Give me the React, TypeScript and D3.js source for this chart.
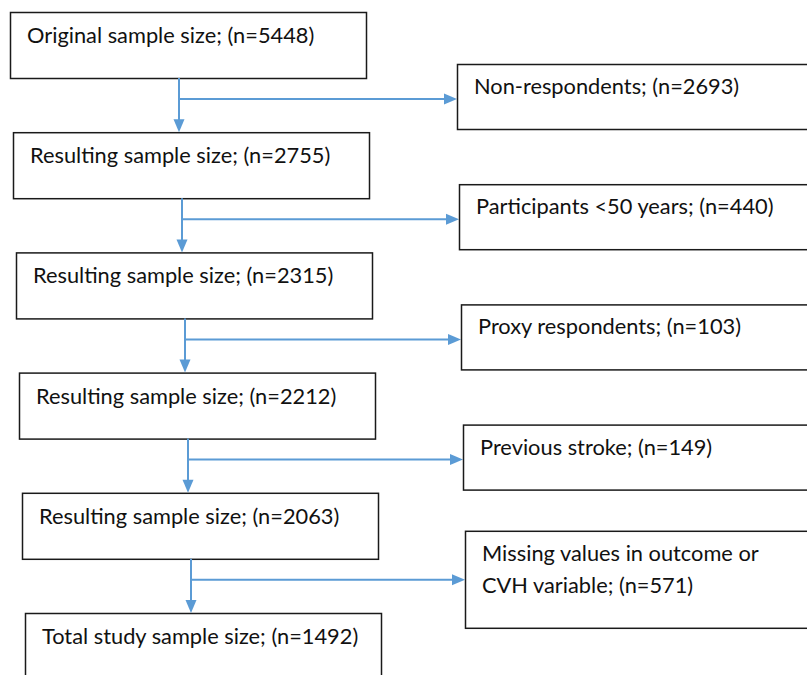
import * as d3 from 'd3';
import React, { useEffect, useRef } from 'react';

// flow steps (main column)
const stepLabels = [
  'Original sample size',
  'Resulting sample size',
  'Resulting sample size',
  'Resulting sample size',
  'Resulting sample size',
  'Total study sample size',
];
const stepCounts = [5448, 2755, 2315, 2212, 2063, 1492];

// exclusions (right column), one per transition
const exclusionLabels = [
  ['Non-respondents; (n=2693)'],
  ['Participants <50 years; (n=440)'],
  ['Proxy respondents; (n=103)'],
  ['Previous stroke; (n=149)'],
  ['Missing values in outcome or', 'CVH variable; (n=571)'],
];
const exclusionCounts = [2693, 440, 103, 149, 571];

const W = 807, H = 675;
const BLUE = '#5B9BD5';
const FONT = 'Lato, "Open Sans", sans-serif';
const FS = 21.8;

const App = () => {
  const ref = useRef<SVGSVGElement | null>(null);

  useEffect(() => {
    const svg = d3.select(ref.current);
    svg.selectAll('*').remove();

    const n = stepLabels.length;
    const y = d3.scaleLinear().domain([0, n - 1]).range([12, 613]);
    const xLeft = d3.scaleLinear().domain([0, n - 1]).range([10, 25]);
    const exLeft = d3.scaleLinear().domain([0, exclusionCounts.length - 1]).range([457, 465]);
    const boxW = 356, boxH = 66;
    const headL = 13, headW = 5.5;

    const data = stepLabels.map((label, i) => ({
      label: `${label}; (n=${stepCounts[i]})`,
      x: xLeft(i),
      y: y(i),
    }));

    const g = svg.append('g');

    // main boxes
    g.selectAll('rect.step')
      .data(data)
      .enter()
      .append('rect')
      .attr('class', 'step')
      .attr('x', d => d.x + 0.5)
      .attr('y', d => d.y + 0.5)
      .attr('width', boxW)
      .attr('height', boxH)
      .attr('fill', 'white')
      .attr('stroke', '#1a1a1a')
      .attr('stroke-width', 1.5);

    g.selectAll('text.step')
      .data(data)
      .enter()
      .append('text')
      .attr('class', 'step')
      .attr('x', d => d.x + 17)
      .attr('y', d => d.y + 31)
      .attr('font-family', FONT)
      .attr('font-size', FS)
      .attr('fill', '#111')
      .text(d => d.label);

    // connectors + exclusions
    exclusionCounts.forEach((_, i) => {
      const from = data[i], to = data[i + 1];
      const cx = from.x + 169;
      const y0 = from.y + boxH;
      const y1 = to.y;
      const by = y0 + 21;
      const exX = exLeft(i);
      const lines = exclusionLabels[i];
      const exH = lines.length > 1 ? 97 : 65;
      const exTop = lines.length > 1 ? by - 49 : by - 35;

      // vertical line and head
      g.append('line')
        .attr('x1', cx).attr('x2', cx)
        .attr('y1', y0).attr('y2', y1 - headL + 1)
        .attr('stroke', BLUE).attr('stroke-width', 2);
      g.append('path')
        .attr('d', `M${cx - headW},${y1 - headL}L${cx + headW},${y1 - headL}L${cx},${y1}Z`)
        .attr('fill', BLUE);

      // branch to exclusion
      g.append('line')
        .attr('x1', cx).attr('x2', exX - headL + 1)
        .attr('y1', by).attr('y2', by)
        .attr('stroke', BLUE).attr('stroke-width', 2);
      g.append('path')
        .attr('d', `M${exX - headL},${by - headW}L${exX - headL},${by + headW}L${exX},${by}Z`)
        .attr('fill', BLUE);

      g.append('rect')
        .attr('x', exX + 0.5)
        .attr('y', exTop + 0.5)
        .attr('width', W)
        .attr('height', exH)
        .attr('fill', 'white')
        .attr('stroke', '#1a1a1a')
        .attr('stroke-width', 1.5);

      g.append('text')
        .attr('font-family', FONT)
        .attr('font-size', FS)
        .attr('fill', '#111')
        .selectAll('tspan')
        .data(lines)
        .enter()
        .append('tspan')
        .attr('x', exX + 17)
        .attr('y', (_, j) => exTop + 30 + j * 32)
        .text(d => d);
    });
  }, []);

  return (
    <div style={{ position: 'absolute', left: 0, top: 0, width: W, height: H, background: 'white' }}>
      <svg ref={ref} width={W} height={H} style={{ display: 'block' }} />
    </div>
  );
};

export default App;
